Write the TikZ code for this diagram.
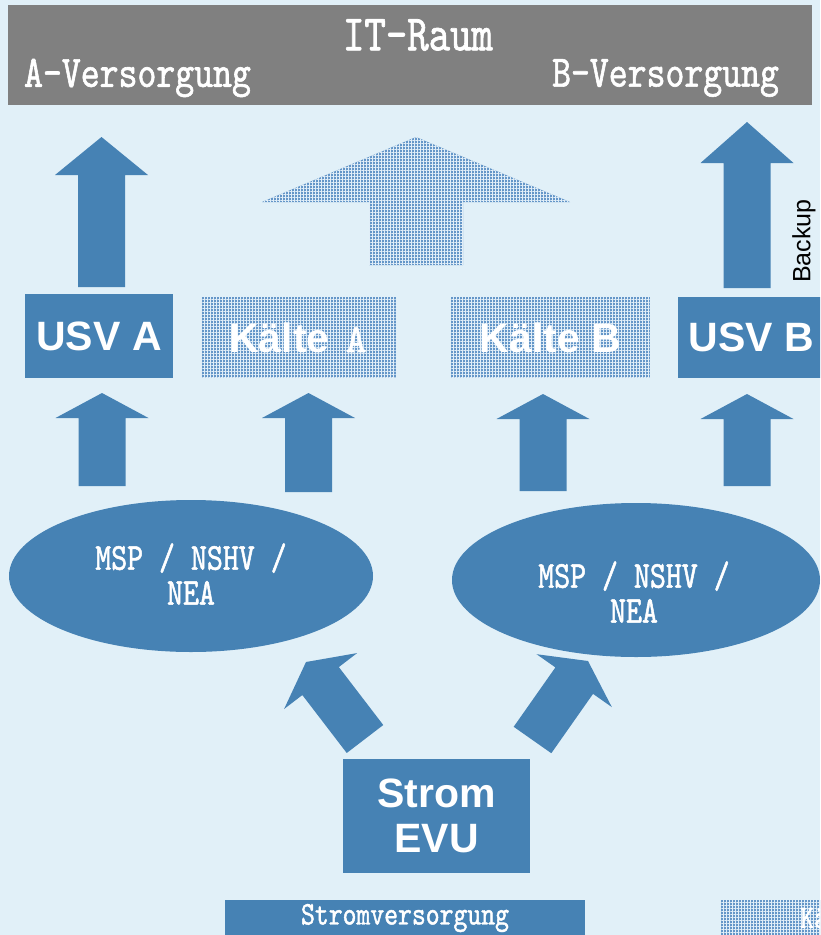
\documentclass[tikz,border=0pt]{standalone}
\usepackage{fontspec}
\setmainfont{Liberation Sans}
\newfontfamily\condfont[FakeStretch=0.8,FakeBold=1.3]{lmmono10-regular.otf}
\newfontfamily\wideserif[FakeBold=1.3]{lmmono10-regular.otf}
\usetikzlibrary{calc,shapes.geometric,patterns.meta}

\definecolor{bgblue}{RGB}{225,240,248}
\definecolor{boxblue}{RGB}{70,130,180}
\definecolor{hdgray}{RGB}{128,128,128}
\definecolor{coldblue}{RGB}{100,150,200}
\definecolor{coldline}{RGB}{225,238,248}

\tikzset{
  blk/.style={fill=boxblue},
  cold/.style={fill=coldblue,
    postaction={pattern={Hatch[angle=0,distance=3pt,line width=0.8pt]}, pattern color=coldline}},
  box/.style={blk, inner sep=0pt, text=white, align=center,
    font=\bfseries\fontsize{41}{45}\selectfont},
  coldbox/.style={cold, inner sep=0pt, text=white, align=center,
    font=\bfseries\fontsize{41}{45}\selectfont},
  ell/.style={blk, ellipse, inner sep=0pt},
  ltext/.style={text=white, inner sep=0pt, align=center,
    font=\condfont\fontsize{38}{35}\selectfont},
  htext/.style={text=white, inner sep=0pt, font=\condfont\fontsize{45}{48}\selectfont},
  legend/.style={inner sep=0pt, text=white, minimum width=360pt, minimum height=36pt,
    font=\condfont\fontsize{33}{36}\selectfont}
}

\newcommand{\blkarrow}[6][blk]{%
  \coordinate (hb) at ($(#3)!#6!(#2)$);
  \fill[#1] ($(#2)!#4!90:(#3)$) -- ($(hb)!#4!-90:(#2)$) -- ($(hb)!#5!-90:(#2)$) -- (#3)
    -- ($(hb)!#5!90:(#2)$) -- ($(hb)!#4!90:(#2)$) -- ($(#2)!#4!-90:(#3)$) -- cycle;}

\begin{document}
\begin{tikzpicture}[x=1pt,y=-1pt]
  \useasboundingbox (0,0) rectangle (820,935);
  \clip (0,0) rectangle (820,935);
  \fill[bgblue] (0,0) rectangle (820,935);

  \node[fill=hdgray, minimum width=804pt, minimum height=100pt, inner sep=0pt] (itroom) at (410,55) {};
  \node[htext, font=\condfont\fontsize{51}{54}\selectfont] (ittitle) at (418,35) {IT-Raum};
  \node[htext] (supA) at (137.5,78) {A-Versorgung};
  \node[htext] (supB) at (665.5,78) {B-Versorgung};

  \node[box, minimum width=148pt, minimum height=84pt] (usvA) at (99,336) {USV A};
  \node[coldbox, minimum width=195pt, minimum height=81pt] (coldA) at (298,337.5)
    {K\"alte\hspace{16pt}{\wideserif\mdseries\fontsize{40}{42}\selectfont A}};
  \node[coldbox, minimum width=199pt, minimum height=81pt] (coldB) at (550.5,337.5) {K\"alte B};
  \node[box, minimum width=147pt, minimum height=81pt] (usvB) at (751.5,337.5) {USV B};

  \node[rotate=90, inner sep=0pt, font=\fontsize{25}{28}\selectfont] (backup) at (804,241) {Backup};

  \node[ell, minimum width=364pt, minimum height=152pt] (mspA) at (191,576) {};
  \node[ltext] (mspAtext) at ($(mspA)+(0,-2)$) {MSP / NSHV /\\NEA};
  \node[ell, minimum width=368pt, minimum height=154pt] (mspB) at (636,580) {};
  \node[ltext] (mspBtext) at ($(mspB)+(-2,12)$) {MSP / NSHV /\\NEA};

  \node[box, minimum width=187pt, minimum height=114pt] (evu) at (436.5,816) {Strom\\EVU};

  \node[blk, legend] (legpower) at (405,918) {Stromversorgung};
  \node[cold, legend, anchor=west] (legcold) at (721,918) {};
  \node[anchor=west, inner sep=0pt, text=white, font=\condfont\fontsize{33}{36}\selectfont]
    (legcoldtext) at (800,918) {K\"a};

  \coordinate (upAs) at (101.5,287);
  \coordinate (upAt) at (101.5,137);
  \coordinate (upBs) at (747,288);
  \coordinate (upBt) at (747,122);
  \coordinate (upCs) at (416,265);
  \coordinate (upCt) at (416,137);
  \coordinate (r1s) at (102,486);
  \coordinate (r1t) at (102,393);
  \coordinate (r2s) at (308.5,492);
  \coordinate (r2t) at (308.5,393);
  \coordinate (r3s) at (543,491);
  \coordinate (r3t) at (543,394);
  \coordinate (r4s) at (747,486);
  \coordinate (r4t) at (747,394);
  \coordinate (dLs) at (365,739);
  \coordinate (dLt) at (306,662);
  \coordinate (dRs) at (532.5,740);
  \coordinate (dRt) at (588,661);

  \blkarrow{upAs}{upAt}{23.5pt}{46.5pt}{38pt}
  \blkarrow{upBs}{upBt}{23.5pt}{46.5pt}{41pt}
  \blkarrow[cold]{upCs}{upCt}{47pt}{154pt}{65pt}
  \blkarrow{r1s}{r1t}{23.5pt}{46.5pt}{25pt}
  \blkarrow{r2s}{r2t}{23.5pt}{46.5pt}{25pt}
  \blkarrow{r3s}{r3t}{23.5pt}{46.5pt}{25pt}
  \blkarrow{r4s}{r4t}{23.5pt}{46.5pt}{25pt}
  \blkarrow{dLs}{dLt}{23pt}{46pt}{24pt}
  \blkarrow{dRs}{dRt}{23pt}{46pt}{24pt}
\end{tikzpicture}
\end{document}
